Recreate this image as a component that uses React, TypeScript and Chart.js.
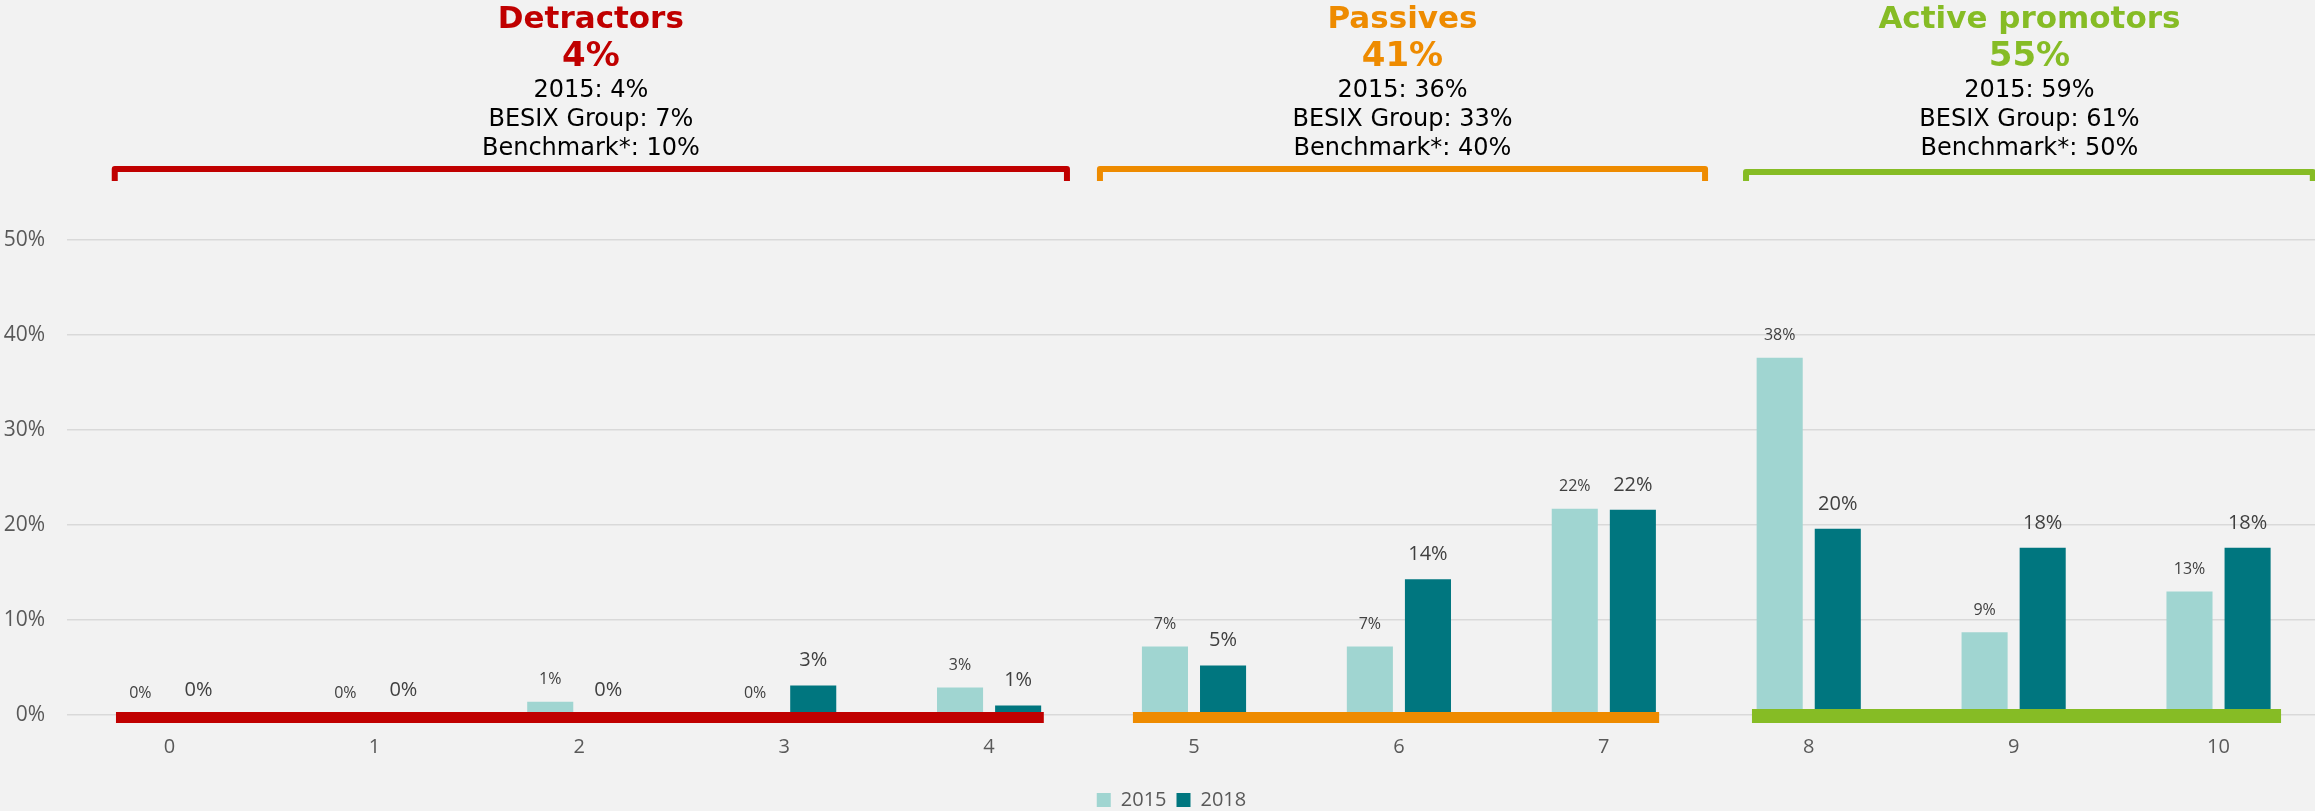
import React, { useEffect, useRef } from 'react';
import { Chart, registerables } from 'chart.js';

Chart.register(...registerables);

// ---- data ----
const categories = ['0', '1', '2', '3', '4', '5', '6', '7', '8', '9', '10'];
const seriesNames = ['2015', '2018'];
const values2015 = [0, 0, 0.014, 0, 0.029, 0.072, 0.072, 0.217, 0.376, 0.087, 0.13];
const values2018 = [0, 0, 0, 0.031, 0.01, 0.052, 0.143, 0.216, 0.196, 0.176, 0.176];
const yMax = 0.5;
const yStep = 0.1;

const groupTitles = ['Detractors', 'Passives', 'Active promotors'];
const groupTotals = [4, 41, 55];
const group2015 = [4, 36, 59];
const groupBesix = [7, 33, 61];
const groupBenchmark = [10, 40, 50];

// ---- layout / style (category units for spans) ----
const bracketSpans = [[-0.267, 4.38], [4.541, 7.494], [7.694, 10.46]];
const bandSpans = [[-0.261, 4.267], [4.702, 7.27], [7.723, 10.305]];
const groupColors = ['#C00000', '#EE8B00', '#86BC25'];
const seriesColors = ['#A0D5D1', '#00767F'];

const pct = (v: number) => Math.round(v * 100) + '%';

const annotPlugin = {
  id: 'annot',
  afterLayout(chart: any) {
    if (chart.legend) {
      chart.legend.left += 22;
    }
  },
  beforeDraw(chart: any) {
    const { ctx, width, height } = chart;
    ctx.save();
    ctx.fillStyle = '#F2F2F2';
    ctx.fillRect(0, 0, width, height);
    ctx.restore();
  },
  afterDatasetsDraw(chart: any) {
    const ctx = chart.ctx;
    const xs = chart.scales.x;
    const ys = chart.scales.y;
    const p0 = xs.getPixelForValue(0);
    const step = xs.getPixelForValue(1) - p0;
    const u = (v: number) => p0 + v * step;
    const zero = ys.getPixelForValue(0);
    ctx.save();
    bandSpans.forEach((s, i) => {
      ctx.fillStyle = groupColors[i];
      const thick = i === 2 ? 14 : 11;
      const top = i === 2 ? zero - 6 : zero - 3;
      ctx.fillRect(u(s[0]), top, u(s[1]) - u(s[0]), thick);
    });
    // data labels
    ctx.fillStyle = '#404040';
    ctx.textAlign = 'center';
    ctx.textBaseline = 'middle';
    chart.data.datasets.forEach((ds: any, di: number) => {
      const meta = chart.getDatasetMeta(di);
      ctx.font = di === 0 ? '16px "Open Sans"' : '20px "Open Sans"';
      const off = di === 0 ? 22 : 25;
      meta.data.forEach((bar: any, j: number) => {
        ctx.fillText(pct(ds.data[j]), bar.x, bar.y - off);
      });
    });
    ctx.restore();
  },
  afterDraw(chart: any) {
    const ctx = chart.ctx;
    const xs = chart.scales.x;
    const p0 = xs.getPixelForValue(0);
    const step = xs.getPixelForValue(1) - p0;
    const u = (v: number) => p0 + v * step;
    ctx.save();
    bracketSpans.forEach((s, i) => {
      const x1 = u(s[0]);
      const x2 = u(s[1]);
      const cx = (x1 + x2) / 2;
      const topY = i === 2 ? 172 : 169;
      ctx.strokeStyle = groupColors[i];
      ctx.lineWidth = 6;
      ctx.lineJoin = 'round';
      ctx.beginPath();
      ctx.moveTo(x1, 181);
      ctx.lineTo(x1, topY);
      ctx.lineTo(x2, topY);
      ctx.lineTo(x2, 181);
      ctx.stroke();

      ctx.textAlign = 'center';
      ctx.textBaseline = 'alphabetic';
      ctx.fillStyle = groupColors[i];
      ctx.font = 'bold 31px "DejaVu Sans"';
      ctx.fillText(groupTitles[i], cx, 28);
      ctx.font = 'bold 34px "DejaVu Sans"';
      ctx.fillText(groupTotals[i] + '%', cx, 66);
      ctx.fillStyle = '#000000';
      ctx.font = '24px "DejaVu Sans"';
      ctx.fillText('2015: ' + group2015[i] + '%', cx, 97);
      ctx.fillText('BESIX Group: ' + groupBesix[i] + '%', cx, 126);
      ctx.fillText('Benchmark*: ' + groupBenchmark[i] + '%', cx, 155);
    });
    ctx.restore();
  },
};

export default function App() {
  const ref = useRef<HTMLCanvasElement>(null);
  useEffect(() => {
    const canvas = ref.current!;
    const chart = new Chart(canvas, {
      type: 'bar',
      data: {
        labels: categories,
        datasets: [
          {
            label: seriesNames[0],
            data: values2015,
            backgroundColor: seriesColors[0],
            categoryPercentage: 0.567,
            barPercentage: 0.793,
          },
          {
            label: seriesNames[1],
            data: values2018,
            backgroundColor: seriesColors[1],
            categoryPercentage: 0.567,
            barPercentage: 0.793,
          },
        ],
      },
      options: {
        responsive: false,
        animation: false,
        layout: { padding: { top: 240, left: 0, right: 0, bottom: 0 } },
        plugins: {
          legend: {
            position: 'bottom',
            labels: {
              boxWidth: 14,
              boxHeight: 14,
              padding: 10,
              color: '#595959',
              font: { family: 'Open Sans', size: 20 },
            },
          },
          tooltip: { enabled: false },
        },
        scales: {
          x: {
            grid: { display: false },
            border: { display: false },
            ticks: { color: '#595959', font: { family: 'Open Sans', size: 20 }, padding: 12 },
            afterFit: (s: any) => {
              s.height = 65;
            },
          },
          y: {
            min: 0,
            max: yMax,
            ticks: {
              stepSize: yStep,
              callback: (v: any) => Math.round(Number(v) * 100) + '%',
              padding: 22,
              color: '#595959',
              font: { family: 'Open Sans', size: 21 },
            },
            grid: { color: '#D9D9D9', lineWidth: 1.5, drawTicks: false },
            border: { display: false },
            afterFit: (s: any) => {
              s.width = 67;
            },
          },
        },
      } as any,
      plugins: [annotPlugin],
    });
    return () => chart.destroy();
  }, []);
  return (
    <div
      style={{
        position: 'fixed',
        left: 0,
        top: 0,
        width: 2315,
        height: 811,
        overflow: 'hidden',
        background: '#F2F2F2',
      }}
    >
      <canvas ref={ref} width={2321} height={820} style={{ display: 'block' }} />
    </div>
  );
}
